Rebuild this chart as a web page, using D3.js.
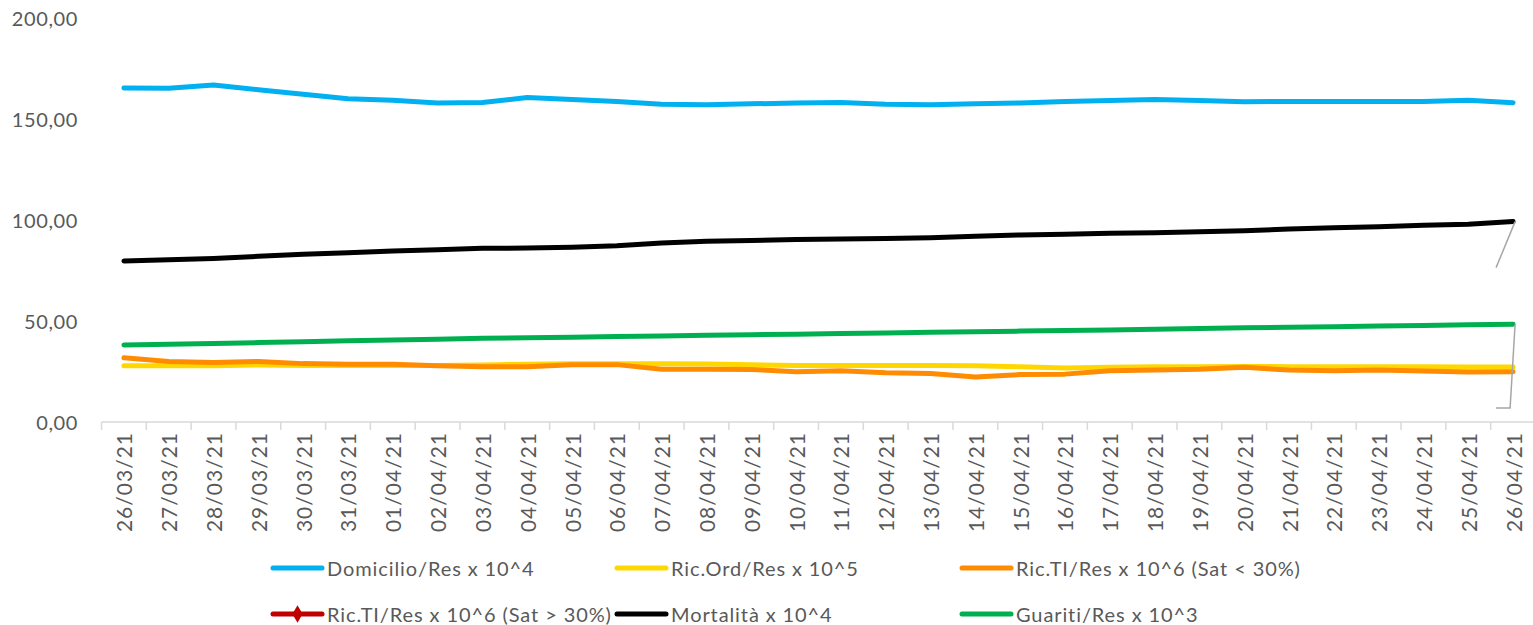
<!DOCTYPE html>
<html>
<head>
<meta charset="utf-8">
<script src="https://cdn.jsdelivr.net/npm/d3@7/dist/d3.min.js"></script>
<style>
  html, body { margin: 0; padding: 0; background: #ffffff; }
  svg { display: block; }
  text { font-family: Lato, "Noto Sans", sans-serif; fill: #595959; }
</style>
</head>
<body>
<svg id="chart" width="1533" height="625"></svg>
<script>
// Daily indicators, 26 March – 26 April 2021
const dates = [
  "26/03/21","27/03/21","28/03/21","29/03/21","30/03/21","31/03/21",
  "01/04/21","02/04/21","03/04/21","04/04/21","05/04/21","06/04/21",
  "07/04/21","08/04/21","09/04/21","10/04/21","11/04/21","12/04/21",
  "13/04/21","14/04/21","15/04/21","16/04/21","17/04/21","18/04/21",
  "19/04/21","20/04/21","21/04/21","22/04/21","23/04/21","24/04/21",
  "25/04/21","26/04/21"
];

const domicilio = [
  165.3, 165.2, 166.8, 164.5, 162.2, 160.0, 159.3, 157.9, 158.2, 160.6, 159.6,
  158.7, 157.3, 157.0, 157.5, 157.9, 158.2, 157.3, 157.0, 157.6, 157.9, 158.7,
  159.2, 159.6, 159.2, 158.6, 158.7, 158.7, 158.7, 158.7, 159.3, 158.1
];

const ricOrd = [
  27.9, 27.9, 27.9, 28.2, 28.0, 28.0, 28.0, 28.0, 28.2, 28.6, 28.8,
  28.8, 28.8, 28.7, 28.3, 28.0, 28.0, 28.0, 28.0, 27.8, 27.3, 26.7,
  27.1, 27.4, 27.4, 27.5, 27.4, 27.4, 27.3, 27.3, 27.2, 27.2
];

const ricTiLow = [
  31.8, 29.9, 29.4, 30.0, 28.9, 28.6, 28.6, 27.9, 27.4, 27.4, 28.3,
  28.4, 26.1, 26.1, 26.0, 24.9, 25.4, 24.4, 24.0, 22.3, 23.5, 23.7,
  25.4, 25.7, 26.1, 27.1, 25.7, 25.4, 25.7, 25.2, 24.8, 24.9
];

// No values recorded for this series over the period
const ricTiHigh = [];

const mortalita = [
  79.7, 80.3, 81.0, 82.0, 83.0, 83.8, 84.7, 85.3, 86.0, 86.1, 86.5,
  87.3, 88.6, 89.5, 89.9, 90.3, 90.6, 90.9, 91.2, 91.9, 92.6, 92.9,
  93.4, 93.7, 94.2, 94.7, 95.5, 96.2, 96.7, 97.4, 97.9, 99.2
];

const guariti = [
  38.1, 38.5, 38.9, 39.3, 39.7, 40.2, 40.6, 41.0, 41.4, 41.7, 42.0,
  42.3, 42.6, 42.9, 43.2, 43.5, 43.8, 44.1, 44.4, 44.7, 45.0, 45.3,
  45.6, 45.9, 46.3, 46.6, 46.9, 47.2, 47.5, 47.8, 48.1, 48.4
];

const yTicks = [0, 50, 100, 150, 200];

const seriesNames = [
  "Domicilio/Res x 10^4",
  "Ric.Ord/Res x 10^5",
  "Ric.TI/Res x 10^6 (Sat < 30%)",
  "Ric.TI/Res x 10^6 (Sat > 30%)",
  "Mortalità x 10^4",
  "Guariti/Res x 10^3"
];

const seriesColors = ["#00B0F0", "#FFD700", "#FF8C00", "#C00000", "#000000", "#00B050"];

// drawing order (later on top)
const series = [
  { name: seriesNames[0], color: seriesColors[0], values: domicilio },
  { name: seriesNames[1], color: seriesColors[1], values: ricOrd },
  { name: seriesNames[2], color: seriesColors[2], values: ricTiLow },
  { name: seriesNames[3], color: seriesColors[3], values: ricTiHigh, marker: true },
  { name: seriesNames[4], color: seriesColors[4], values: mortalita },
  { name: seriesNames[5], color: seriesColors[5], values: guariti }
];

const svg = d3.select("#chart");

const x = d3.scaleBand().domain(dates).range([101.5, 1535.5]);
const y = d3.scaleLinear().domain([0, 200]).range([422, 18]);

const locale = d3.formatLocale({ decimal: ",", thousands: ".", grouping: [3], currency: ["", "€"] });
const fmt = locale.format(".2f");

// Y axis labels (no axis line, no gridlines)
svg.append("g")
  .selectAll("text")
  .data(yTicks)
  .join("text")
  .attr("x", 78)
  .attr("y", d => y(d))
  .attr("text-anchor", "end")
  .attr("dominant-baseline", "central")
  .attr("font-size", 20)
  .attr("letter-spacing", 0.6)
  .text(d => fmt(d));

// X axis: baseline and tick marks at category boundaries
const xAxis = svg.append("g").attr("transform", `translate(0,${y(0)})`);
xAxis.append("line")
  .attr("x1", x.range()[0]).attr("x2", x.range()[1])
  .attr("stroke", "#d9d9d9").attr("stroke-width", 1.5);
xAxis.selectAll("line.tick")
  .data(d3.range(dates.length + 1))
  .join("line")
  .attr("class", "tick")
  .attr("x1", i => x.range()[0] + i * x.step())
  .attr("x2", i => x.range()[0] + i * x.step())
  .attr("y1", 0).attr("y2", 8)
  .attr("stroke", "#d9d9d9").attr("stroke-width", 1.5);

xAxis.selectAll("text")
  .data(dates)
  .join("text")
  .attr("transform", d => `translate(${x(d) + x.bandwidth() / 2},10) rotate(-90)`)
  .attr("text-anchor", "end")
  .attr("dominant-baseline", "central")
  .attr("font-size", 21)
  .attr("letter-spacing", 1.0)
  .text(d => d);

// Lines
const line = d3.line()
  .defined(d => d != null)
  .x((d, i) => x(dates[i]) + x.bandwidth() / 2)
  .y(d => y(d));

svg.append("g")
  .selectAll("path")
  .data(series)
  .join("path")
  .attr("d", s => line(s.values))
  .attr("fill", "none")
  .attr("stroke", s => s.color)
  .attr("stroke-width", 5)
  .attr("stroke-linecap", "round")
  .attr("stroke-linejoin", "round");

// Leader lines of the end-of-series data labels
const lastIdx = dates.length - 1;
const xEnd = x(dates[lastIdx]) + x.bandwidth() / 2;
const leaders = svg.append("g")
  .attr("fill", "none").attr("stroke", "#a6a6a6").attr("stroke-width", 1.5);
leaders.append("path")
  .attr("d", `M${xEnd + 2},${y(mortalita[lastIdx])} L${xEnd - 17},${y(mortalita[lastIdx]) + 46}`);
leaders.append("path")
  .attr("d", `M${xEnd + 2},${y(guariti[lastIdx])} L${xEnd - 3},${y(0) - 14} L${xEnd - 17},${y(0) - 14}`);

// Legend: two rows of three entries
const legendCols = [271, 615, 960];
const legendRows = [568, 614];
const legend = svg.append("g")
  .selectAll("g")
  .data(series)
  .join("g")
  .attr("transform", (d, i) => `translate(${legendCols[i % 3]},${legendRows[Math.floor(i / 3)]})`);

legend.append("line")
  .attr("x1", 2).attr("x2", 51)
  .attr("stroke", d => d.color)
  .attr("stroke-width", 5)
  .attr("stroke-linecap", "round");

legend.filter(d => d.marker)
  .append("path")
  .attr("d", d3.symbol(d3.symbolDiamond, 90)())
  .attr("transform", "translate(26.5,0)")
  .attr("fill", d => d.color);

legend.append("text")
  .attr("x", 56)
  .attr("y", 0)
  .attr("dominant-baseline", "central")
  .attr("font-size", 20)
  .attr("letter-spacing", 0.9)
  .text(d => d.name);
</script>
</body>
</html>
